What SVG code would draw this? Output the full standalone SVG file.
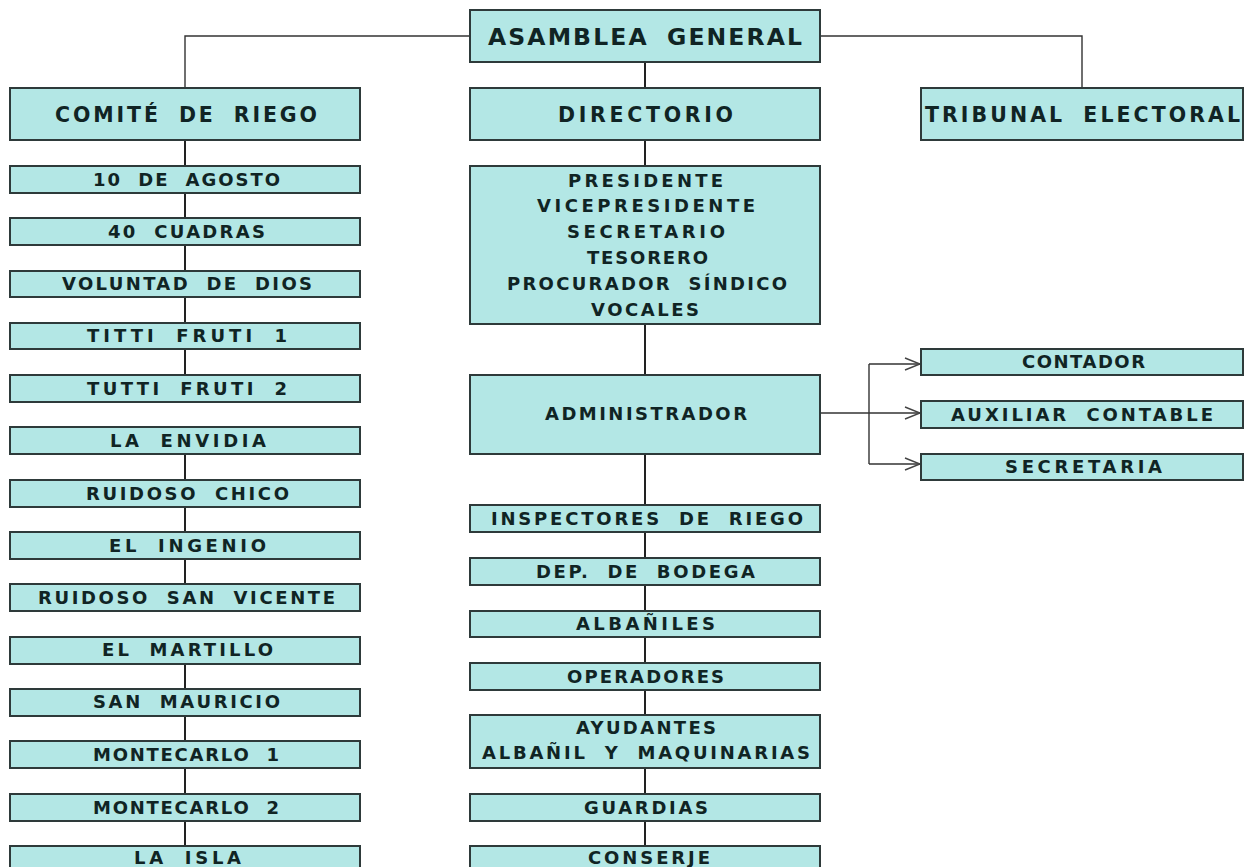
<svg xmlns="http://www.w3.org/2000/svg" width="1244" height="867" viewBox="0 0 1244 867">
<style>
.box{fill:#b3e7e5;stroke:#2e3a3a;stroke-width:2}
text{font-family:"DejaVu Sans","Verdana",sans-serif;font-weight:bold;fill:#102424;font-size:18px;word-spacing:8px}
.big{font-size:20.5px}
.huge{font-size:23.5px}
.ln{fill:none;stroke:#222;stroke-width:2}
.thin{fill:none;stroke:#333;stroke-width:1.4}
</style>
<defs>
<marker id="arr" markerUnits="userSpaceOnUse" markerWidth="18" markerHeight="14" refX="16" refY="7" orient="auto">
<path d="M1,1 L16,7 L1,13" fill="none" stroke="#444" stroke-width="1.4"/>
</marker>
</defs>
<rect width="1244" height="867" fill="#fff"/>
<g id="connectors">
<path class="thin" d="M185,88 V36 H470 M820,36 H1082 V88"/>
<path class="ln" d="M185,140V166 M185,193V218 M185,245V271 M185,297V323 M185,349V375 M185,454V480 M185,507V532 M185,559V584 M185,664V689 M185,716V741 M185,768V794 M185,821V846"/>
<path class="ln" d="M645,62V88 M645,140V166 M645,324V375 M645,454V505 M645,532V558 M645,585V611 M645,637V663 M645,690V715 M645,768V794 M645,821V846"/>
<path class="thin" d="M820,413 H920" marker-end="url(#arr)"/>
<path class="thin" d="M869,364 V464"/>
<path class="thin" d="M869,364 H920" marker-end="url(#arr)"/>
<path class="thin" d="M869,464 H920" marker-end="url(#arr)"/>
</g>
<g id="asamblea"><rect class="box" x="470" y="10" width="350" height="52"/><text class="huge" x="488" y="45" textLength="314" lengthAdjust="spacing">ASAMBLEA GENERAL</text></g>
<g id="comite"><rect class="box" x="10" y="88" width="350" height="52"/><text class="big" x="55" y="122" textLength="262" lengthAdjust="spacing">COMITÉ DE RIEGO</text></g>
<g id="directorio"><rect class="box" x="470" y="88" width="350" height="52"/><text class="big" x="558" y="122" textLength="175" lengthAdjust="spacing">DIRECTORIO</text></g>
<g id="tribunal"><rect class="box" x="921" y="88" width="322" height="52"/><text class="big" x="925" y="122" textLength="315" lengthAdjust="spacing">TRIBUNAL ELECTORAL</text></g>
<g id="c1"><rect class="box" x="10" y="166" width="350" height="27"/><text x="93" y="186" textLength="187" lengthAdjust="spacing">10 DE AGOSTO</text></g>
<g id="c2"><rect class="box" x="10" y="218" width="350" height="27"/><text x="108" y="238" textLength="157" lengthAdjust="spacing">40 CUADRAS</text></g>
<g id="c3"><rect class="box" x="10" y="271" width="350" height="26"/><text x="62" y="290" textLength="250" lengthAdjust="spacing">VOLUNTAD DE DIOS</text></g>
<g id="c4"><rect class="box" x="10" y="323" width="350" height="26"/><text x="87" y="342" textLength="200" lengthAdjust="spacing">TITTI FRUTI 1</text></g>
<g id="c5"><rect class="box" x="10" y="375" width="350" height="27"/><text x="87" y="395" textLength="200" lengthAdjust="spacing">TUTTI FRUTI 2</text></g>
<g id="c6"><rect class="box" x="10" y="427" width="350" height="27"/><text x="110" y="447" textLength="156" lengthAdjust="spacing">LA ENVIDIA</text></g>
<g id="c7"><rect class="box" x="10" y="480" width="350" height="27"/><text x="86" y="500" textLength="203" lengthAdjust="spacing">RUIDOSO CHICO</text></g>
<g id="c8"><rect class="box" x="10" y="532" width="350" height="27"/><text x="109" y="552" textLength="157" lengthAdjust="spacing">EL INGENIO</text></g>
<g id="c9"><rect class="box" x="10" y="584" width="350" height="27"/><text x="38" y="604" textLength="297" lengthAdjust="spacing">RUIDOSO SAN VICENTE</text></g>
<g id="c10"><rect class="box" x="10" y="637" width="350" height="27"/><text x="102" y="656" textLength="171" lengthAdjust="spacing">EL MARTILLO</text></g>
<g id="c11"><rect class="box" x="10" y="689" width="350" height="27"/><text x="93" y="708" textLength="187" lengthAdjust="spacing">SAN MAURICIO</text></g>
<g id="c12"><rect class="box" x="10" y="741" width="350" height="27"/><text x="93" y="761" textLength="186" lengthAdjust="spacing">MONTECARLO 1</text></g>
<g id="c13"><rect class="box" x="10" y="794" width="350" height="27"/><text x="93" y="814" textLength="186" lengthAdjust="spacing">MONTECARLO 2</text></g>
<g id="c14"><rect class="box" x="10" y="846" width="350" height="27"/><text x="134" y="864" textLength="107" lengthAdjust="spacing">LA ISLA</text></g>
<g id="cargos"><rect class="box" x="470" y="166" width="350" height="158"/>
<text x="568" y="187" textLength="155" lengthAdjust="spacing">PRESIDENTE</text>
<text x="537" y="212" textLength="218" lengthAdjust="spacing">VICEPRESIDENTE</text>
<text x="567" y="238" textLength="158" lengthAdjust="spacing">SECRETARIO</text>
<text x="587" y="264" textLength="121" lengthAdjust="spacing">TESORERO</text>
<text x="507" y="290" textLength="280" lengthAdjust="spacing">PROCURADOR SÍNDICO</text>
<text x="591" y="316" textLength="108" lengthAdjust="spacing">VOCALES</text></g>
<g id="administrador"><rect class="box" x="470" y="375" width="350" height="79"/><text x="545" y="420" textLength="202" lengthAdjust="spacing">ADMINISTRADOR</text></g>
<g id="contador"><rect class="box" x="921" y="349" width="322" height="26"/><text x="1022" y="368" textLength="123" lengthAdjust="spacing">CONTADOR</text></g>
<g id="auxiliar"><rect class="box" x="921" y="401" width="322" height="27"/><text x="951" y="421" textLength="262" lengthAdjust="spacing">AUXILIAR CONTABLE</text></g>
<g id="secretaria"><rect class="box" x="921" y="454" width="322" height="26"/><text x="1005" y="473" textLength="157" lengthAdjust="spacing">SECRETARIA</text></g>
<g id="inspectores"><rect class="box" x="470" y="505" width="350" height="27"/><text x="491" y="525" textLength="312" lengthAdjust="spacing">INSPECTORES DE RIEGO</text></g>
<g id="bodega"><rect class="box" x="470" y="558" width="350" height="27"/><text x="536" y="578" textLength="219" lengthAdjust="spacing">DEP. DE BODEGA</text></g>
<g id="albaniles"><rect class="box" x="470" y="611" width="350" height="26"/><text x="576" y="630" textLength="139" lengthAdjust="spacing">ALBAÑILES</text></g>
<g id="operadores"><rect class="box" x="470" y="663" width="350" height="27"/><text x="567" y="683" textLength="157" lengthAdjust="spacing">OPERADORES</text></g>
<g id="ayudantes"><rect class="box" x="470" y="715" width="350" height="53"/>
<text x="576" y="734" textLength="140" lengthAdjust="spacing">AYUDANTES</text>
<text x="482" y="759" textLength="328" lengthAdjust="spacing">ALBAÑIL Y MAQUINARIAS</text></g>
<g id="guardias"><rect class="box" x="470" y="794" width="350" height="27"/><text x="584" y="814" textLength="124" lengthAdjust="spacing">GUARDIAS</text></g>
<g id="conserje"><rect class="box" x="470" y="846" width="350" height="27"/><text x="588" y="864" textLength="122" lengthAdjust="spacing">CONSERJE</text></g>
</svg>
